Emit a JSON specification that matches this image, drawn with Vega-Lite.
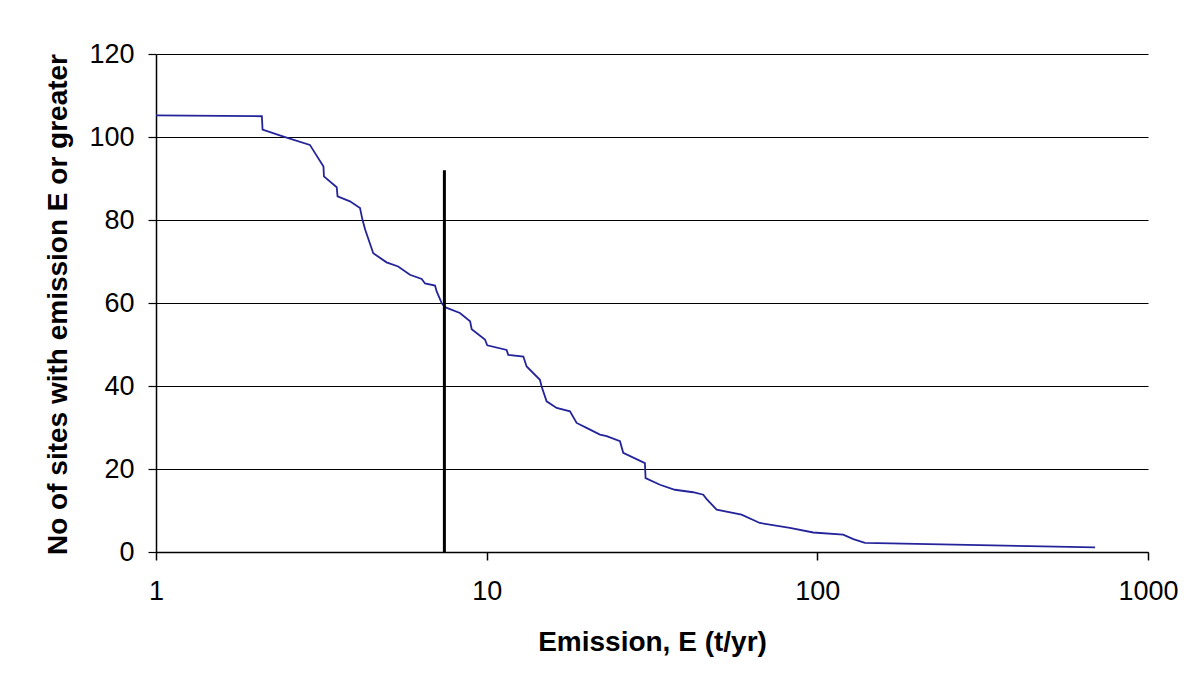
{
  "$schema": "https://vega.github.io/schema/vega-lite/v6.json",
  "width": 992,
  "height": 498,
  "autosize": {"type": "none"},
  "padding": {"left": 156, "top": 54, "right": 55, "bottom": 146},
  "background": "white",
  "config": {"view": {"stroke": null}, "font": "Liberation Sans"},
  "datasets": {
    "curve": [
      {"E": 1.0, "N": 105.2},
      {"E": 2.09, "N": 105.0},
      {"E": 2.10, "N": 101.8},
      {"E": 2.43, "N": 100.1},
      {"E": 2.92, "N": 98.1},
      {"E": 3.21, "N": 92.9},
      {"E": 3.22, "N": 90.5},
      {"E": 3.52, "N": 87.9},
      {"E": 3.54, "N": 85.7},
      {"E": 3.86, "N": 84.5},
      {"E": 4.14, "N": 82.9},
      {"E": 4.21, "N": 80.1},
      {"E": 4.29, "N": 77.7},
      {"E": 4.54, "N": 72.0},
      {"E": 4.98, "N": 69.8},
      {"E": 5.40, "N": 68.8},
      {"E": 5.86, "N": 66.8},
      {"E": 6.36, "N": 65.8},
      {"E": 6.51, "N": 64.7},
      {"E": 6.98, "N": 64.2},
      {"E": 7.06, "N": 62.8},
      {"E": 7.31, "N": 60.0},
      {"E": 7.48, "N": 59.0},
      {"E": 8.30, "N": 57.6},
      {"E": 8.91, "N": 55.6},
      {"E": 9.01, "N": 53.7},
      {"E": 9.88, "N": 51.2},
      {"E": 10.04, "N": 49.8},
      {"E": 11.49, "N": 48.7},
      {"E": 11.62, "N": 47.5},
      {"E": 12.91, "N": 47.1},
      {"E": 13.21, "N": 44.7},
      {"E": 14.49, "N": 41.5},
      {"E": 14.66, "N": 39.9},
      {"E": 15.18, "N": 36.3},
      {"E": 16.28, "N": 34.7},
      {"E": 17.86, "N": 33.9},
      {"E": 18.71, "N": 31.1},
      {"E": 20.05, "N": 29.9},
      {"E": 22.01, "N": 28.3},
      {"E": 23.06, "N": 27.9},
      {"E": 25.30, "N": 26.7},
      {"E": 25.88, "N": 23.9},
      {"E": 30.10, "N": 21.4},
      {"E": 30.24, "N": 17.8},
      {"E": 33.43, "N": 16.2},
      {"E": 37.08, "N": 15.0},
      {"E": 42.1, "N": 14.4},
      {"E": 45.2, "N": 13.8},
      {"E": 46.2, "N": 12.8},
      {"E": 49.6, "N": 10.2},
      {"E": 59.0, "N": 9.0},
      {"E": 67.0, "N": 7.0},
      {"E": 82.6, "N": 5.8},
      {"E": 97.2, "N": 4.7},
      {"E": 119.7, "N": 4.2},
      {"E": 128.5, "N": 3.1},
      {"E": 139.3, "N": 2.2},
      {"E": 691.8, "N": 1.1}
    ],
    "marker": [{"E": 7.45, "N0": 0, "N1": 92}]
  },
  "layer": [
    {
      "data": {"name": "curve"},
      "mark": {"type": "line", "color": "#24249a", "strokeWidth": 1.8},
      "encoding": {
        "x": {
          "field": "E",
          "type": "quantitative",
          "scale": {"type": "log", "domain": [1, 1000], "nice": false},
          "axis": {
            "title": "Emission, E (t/yr)",
            "values": [1, 10, 100, 1000],
            "format": "d",
            "grid": false,
            "labelFlush": false,
            "labelOverlap": false,
            "domainColor": "black",
            "domainWidth": 1.5,
            "tickColor": "black",
            "tickWidth": 1.5,
            "tickSize": 8,
            "labelFontSize": 27,
            "labelColor": "black",
            "labelPadding": 18,
            "titleFontSize": 28,
            "titleFontWeight": "bold",
            "titleColor": "black",
            "titleY": 98,
            "titleBaseline": "alphabetic"
          }
        },
        "y": {
          "field": "N",
          "type": "quantitative",
          "scale": {"domain": [0, 120], "nice": false},
          "axis": {
            "title": "No of sites with emission E or greater",
            "values": [0, 20, 40, 60, 80, 100, 120],
            "grid": true,
            "labelFlush": false,
            "gridColor": "black",
            "gridWidth": 1.2,
            "gridOpacity": 1,
            "domainColor": "black",
            "domainWidth": 1.5,
            "tickColor": "black",
            "tickWidth": 1.2,
            "tickSize": 8,
            "labelFontSize": 27,
            "labelColor": "black",
            "labelPadding": 14,
            "titleFontSize": 28,
            "titleFontWeight": "bold",
            "titleColor": "black",
            "titleX": -90,
            "titleY": 250,
            "titleAngle": 270,
            "titleBaseline": "alphabetic"
          }
        }
      }
    },
    {
      "data": {"name": "marker"},
      "mark": {"type": "rule", "color": "black", "strokeWidth": 3},
      "encoding": {
        "x": {"field": "E", "type": "quantitative"},
        "y": {"field": "N0", "type": "quantitative"},
        "y2": {"field": "N1"}
      }
    }
  ]
}
